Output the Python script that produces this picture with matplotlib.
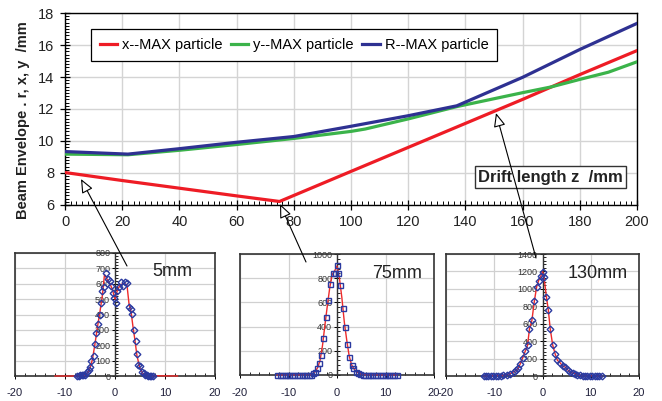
import matplotlib
matplotlib.use("Agg")
import matplotlib.pyplot as plt
from matplotlib.ticker import MultipleLocator
from matplotlib.patches import FancyArrowPatch

plt.rcParams['font.family'] = ['Liberation Sans', 'DejaVu Sans']
plt.rcParams['axes.unicode_minus'] = False

# ---------------- main chart data ----------------
z_x = [0, 20, 40, 60, 75, 100, 120, 140, 160, 180, 200]
x_env = [8.03, 7.53, 7.05, 6.57, 6.22, 8.1, 9.6, 11.1, 12.6, 14.15, 15.65]
z_y = [0, 22, 40, 60, 80, 100, 105, 120, 137, 160, 170, 180, 190, 200]
y_env = [9.18, 9.14, 9.42, 9.78, 10.16, 10.6, 10.75, 11.38, 12.15, 13.02, 13.38, 13.85, 14.3, 14.95]
z_r = [0, 22, 40, 60, 80, 100, 120, 137, 160, 180, 200]
r_env = [9.34, 9.18, 9.52, 9.92, 10.28, 10.92, 11.58, 12.2, 13.98, 15.72, 17.35]

series_labels = ['x--MAX particle', 'y--MAX particle', 'R--MAX particle']
series_colors = ['#ee1c25', '#3bb34a', '#2e3192']

# ---------------- inset data ----------------
# 5 mm
p1_x = [-7.5, -7.2, -6.9, -6.6, -6.3, -6.0, -5.5, -5.1, -4.9, -4.7, -4.2, -4.0, -3.7, -3.3,
        -3.0, -2.7, -2.5, -2.2, -1.8, -1.3, -1.0, -0.7, -0.3, -0.1, 0.2, 0.5, 0.9, 1.3,
        1.7, 2.0, 2.5, 2.8, 3.1, 3.3, 3.7, 4.1, 4.3, 4.5, 5.0, 5.3, 5.7, 6.0, 6.3, 6.6,
        6.9, 7.2, 7.5]
p1_y = [3, 0, 4, 6, 6, 6, 26, 39, 61, 100, 130, 209, 278, 337,
        396, 474, 550, 576, 670, 633, 615, 587, 539, 507, 474, 550, 576, 609,
        587, 609, 604, 452, 435, 404, 296, 228, 141, 72, 65, 28, 17, 6, 4, 2,
        2, 0, 0]
f1_x = [-12, -7, -6, -5.5, -5, -4.5, -4, -3.5, -3, -2.5, -2.1, -1.6, -1.0, -0.5, 0,
        0.5, 1.0, 1.5, 2.0, 2.4, 2.8, 3.2, 3.6, 4.0, 4.4, 5.0, 5.6, 6.5, 12.5]
f1_y = [0, 0, 5, 20, 50, 110, 210, 320, 420, 530, 660, 630, 600, 560, 500,
        560, 590, 600, 600, 590, 470, 420, 320, 230, 130, 50, 15, 2, 0]

# 75 mm
p2_x = [-12.3, -11.8, -11.3, -10.8, -10.3, -9.8, -9.3, -8.8, -8.3, -7.8, -7.3, -6.8, -6.3,
        -5.8, -5.3, -5.0, -4.5, -4.1, -3.8, -3.3, -2.8, -2.3, -1.8, -1.4, -0.9, -0.4,
        -0.1, 0.3, 0.7, 1.2, 1.6, 2.1, 2.5, 3.0, 3.4, 3.9, 4.4, 4.8, 5.3, 5.8, 6.3, 6.8,
        7.3, 7.8, 8.3, 8.8, 9.3, 9.8, 10.3, 10.8, 11.3, 11.8, 12.3]
p2_y = [0, 0, 0, 0, 0, 0, 0, 0, 0, 0, 0, 0, 0,
        0, 2, 14, 28, 55, 102, 165, 303, 482, 620, 752, 840, 846,
        906, 840, 747, 557, 400, 253, 152, 83, 55, 28, 19, 8, 3, 1, 0, 0,
        0, 0, 0, 0, 0, 0, 0, 0, 0, 0, 0]
f2_x = [-12.3, -5.5, -5, -4.5, -4, -3.5, -3, -2.5, -2, -1.5, -1, -0.5, 0, 0.5, 1, 1.5,
        2, 2.5, 3, 3.5, 4, 5, 6, 12.3]
f2_y = [0, 2, 12, 28, 60, 120, 240, 410, 570, 720, 830, 860, 900, 800, 640, 440,
        290, 160, 85, 50, 25, 8, 2, 0]

# 130 mm
p3_x = [-12.2, -11.7, -11.2, -10.7, -10.2, -9.7, -9.2, -8.7, -8.1, -7.4, -6.7, -6.0, -5.4,
        -5.0, -4.6, -4.1, -3.6, -3.1, -2.7, -2.2, -1.7, -1.2, -0.8, -0.3, 0.0, 0.3, 0.8,
        1.2, 1.6, 2.1, 2.6, 3.1, 3.7, 4.2, 4.7, 5.2, 5.7, 6.3, 6.8, 7.2, 7.8, 8.3, 8.8,
        9.3, 9.8, 10.3, 10.8, 11.3, 11.8, 12.3]
p3_y = [0, 0, 0, 0, 0, 0, 2, 4, 8, 15, 27, 46, 65,
        92, 141, 210, 282, 351, 542, 637, 855, 1026, 1095, 1152, 1198, 1140, 912,
        760, 542, 359, 256, 179, 149, 111, 103, 72, 46, 34, 27, 15, 8, 4, 2,
        0, 0, 0, 0, 0, 0, 0]
f3_x = [-12.2, -8.1, -7.4, -6.7, -6.0, -5.4, -5.0, -4.6, -4.1, -3.6, -3.1, -2.7, -2.2,
        -1.7, -1.2, -0.8, -0.3, 0.0, 0.3, 0.8, 1.2, 1.6, 2.1, 2.6, 3.1, 3.7, 4.2, 4.7,
        5.2, 5.7, 6.3, 6.8, 7.2, 8.0, 12.3]
f3_y = [0, 8, 15, 27, 46, 65, 92, 141, 210, 282, 351, 542, 637,
        855, 1026, 1095, 1152, 1198, 1140, 912, 760, 542, 359, 256, 179, 149, 111, 103,
        72, 46, 34, 27, 15, 6, 0]

inset_titles = ['5mm', '75mm', '130mm']

W, H = 662, 401
fig = plt.figure(figsize=(W / 100, H / 100), dpi=100)


def px_axes(l, t, r, b):
    return fig.add_axes([l / W, 1 - b / H, (r - l) / W, (b - t) / H])


def figpt(x, y):
    return (x / W, 1 - y / H)


# ---------------- main axes ----------------
ax = px_axes(65, 13, 637, 205)
for zz, vv, lab, col in zip([z_x, z_y, z_r], [x_env, y_env, r_env], series_labels, series_colors):
    ax.plot(zz, vv, color=col, lw=2.3, label=lab, solid_joinstyle='round', zorder=3)
ax.set_xlim(0, 200)
ax.set_ylim(6, 18)
ax.xaxis.set_major_locator(MultipleLocator(20))
ax.xaxis.set_minor_locator(MultipleLocator(2))
ax.yaxis.set_major_locator(MultipleLocator(2))
ax.yaxis.set_minor_locator(MultipleLocator(0.2))
ax.grid(True, which='major', color='#d4d4d4', lw=1.0, zorder=0)
ax.tick_params(which='major', direction='inout', length=7, width=0.9, labelsize=10.5,
               labelcolor='#222222', pad=4)
ax.tick_params(which='minor', direction='in', length=3, width=0.7)
ax.tick_params(axis='x', which='both', bottom=True, top=False)
ax.tick_params(axis='y', which='both', left=True, right=False)
for s in ax.spines.values():
    s.set_color('black')
    s.set_linewidth(1.0)

leg = ax.legend(loc='upper left', bbox_to_anchor=figpt(91, 29), bbox_transform=fig.transFigure,
                ncol=3, frameon=True, fancybox=False, edgecolor='black', framealpha=1,
                fontsize=10.5, handlelength=1.2, handletextpad=0.35, columnspacing=0.55,
                borderpad=0.6, borderaxespad=0)
leg.get_frame().set_linewidth(0.9)

ax.text(0.975, 0.145, 'Drift length z  /mm', transform=ax.transAxes, ha='right', va='center',
        fontsize=12, fontweight='bold', color='#222222',
        bbox=dict(boxstyle='square,pad=0.2', fc='white', ec='#333333', lw=1.0), zorder=5)

fig.text(23 / W, 1 - 120 / H, 'Beam Envelope . r, x, y  /mm', rotation=90, ha='center',
         va='center', fontsize=10.5, fontweight='bold', color='#222222')

# ---------------- insets ----------------
inset_boxes = [(15, 253, 215, 376), (240, 254, 434, 375), (446, 254, 639, 376)]
inset_ymax = [800, 1000, 1400]
inset_ystep = [100, 200, 200]
inset_title_pos = [(152, 272), (372, 273), (568, 273)]
points = [(p1_x, p1_y, 'D'), (p2_x, p2_y, 's'), (p3_x, p3_y, 'D')]
fits = [(f1_x, f1_y), (f2_x, f2_y), (f3_x, f3_y)]

for i in range(3):
    a = px_axes(*inset_boxes[i])
    a.set_xlim(-20, 20)
    a.set_ylim(0, inset_ymax[i])
    fx, fy = fits[i]
    a.plot(fx, fy, color='#ee2a2a', lw=1.0, zorder=3, clip_on=False)
    px, py, mk = points[i]
    a.plot(px, py, linestyle='none', marker=mk, ms=3.6 if mk == 's' else 3.4,
           mfc='none', mec='#2b3aa0', mew=1.0, zorder=4, clip_on=False)
    a.xaxis.set_major_locator(MultipleLocator(10))
    a.xaxis.set_minor_locator(MultipleLocator(2))
    a.yaxis.set_major_locator(MultipleLocator(inset_ystep[i]))
    a.yaxis.set_minor_locator(MultipleLocator(inset_ystep[i] / 5))
    a.grid(True, which='major', color='#d0d0d0', lw=0.9, zorder=0)
    a.spines['left'].set_position(('data', 0))
    a.spines['left'].set_color('#333333')
    a.spines['left'].set_linewidth(1.0)
    for side in ['top', 'right', 'bottom']:
        a.spines[side].set_color('#333333')
        a.spines[side].set_linewidth(1.2)
    a.axvline(-20, color='#333333', lw=1.2, clip_on=False, zorder=5)
    a.tick_params(axis='y', which='major', direction='inout', length=4, width=0.7,
                  labelsize=6.5, labelcolor='#333333', pad=1.5)
    a.tick_params(axis='y', which='minor', direction='in', length=2.5, width=0.6)
    a.tick_params(axis='x', which='major', direction='inout', length=4, width=0.7,
                  labelsize=8, labelcolor='#1f1f3a', pad=7)
    a.tick_params(axis='x', which='minor', direction='in', length=2.5, width=0.6)
    a.tick_params(axis='y', which='both', right=False)
    a.tick_params(axis='x', which='both', top=False)
    a.set_xticks([-20, -10, 0, 10, 20])
    tx, ty = inset_title_pos[i]
    fig.text(tx / W, 1 - ty / H, inset_titles[i], ha='left', va='center', fontsize=13,
             color='#222222')

# ---------------- arrows ----------------
arrows = [((127, 266), (81, 179)), ((306, 262), (280, 204)), ((536, 258), (496, 113))]
for (t, h) in arrows:
    arr = FancyArrowPatch(figpt(*t), figpt(*h), transform=fig.transFigure,
                          arrowstyle='-|>,head_length=0.7,head_width=0.3',
                          mutation_scale=12, fc='white', ec='black', lw=0.8, zorder=10,
                          shrinkA=0, shrinkB=0)
    fig.add_artist(arr)

fig.savefig('out.png', dpi=100)
